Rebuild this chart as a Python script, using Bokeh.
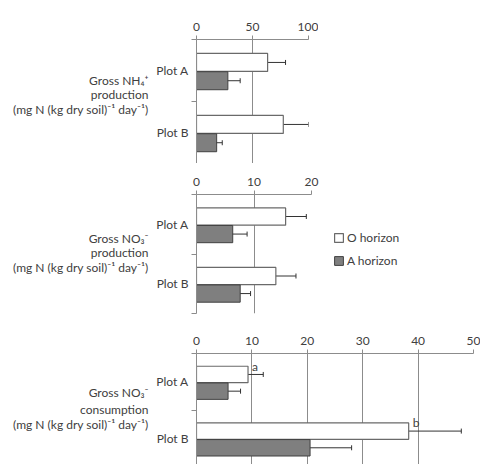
from bokeh.plotting import figure
from bokeh.layouts import column, row
from bokeh.models import (ColumnDataSource, Range1d, FixedTicker, Whisker, TeeHead,
                          Label, Legend, LegendItem)
from bokeh.core.properties import value
from bokeh.embed import file_html
from bokeh.resources import INLINE

# ---------------- data ----------------
categories = ["Plot A", "Plot B"]
series_names = ["O horizon", "A horizon"]

nh4_prod_O = [63.5, 77.5]
nh4_prod_O_err = [16.0, 22.5]
nh4_prod_A = [28.0, 18.0]
nh4_prod_A_err = [11.0, 5.0]

no3_prod_O = [15.5, 13.8]
no3_prod_O_err = [3.6, 3.5]
no3_prod_A = [6.3, 7.6]
no3_prod_A_err = [2.5, 1.8]

no3_cons_O = [9.3, 38.3]
no3_cons_O_err = [2.75, 9.5]
no3_cons_A = [5.7, 20.5]
no3_cons_A_err = [2.25, 7.5]
no3_cons_letters = ["a", "b"]

ticks_nh4 = [0, 50, 100]
ticks_no3p = [0, 10, 20]
ticks_no3c = [0, 10, 20, 30, 40, 50]

unit_line = "(mg N (kg dry soil)\u207b\u00b9 day\u207b\u00b9)"
labels = [
    ["Gross NH\u2084\u207a", "production", unit_line],
    ["Gross NO\u2083\u207b", "production", unit_line],
    ["Gross NO\u2083\u207b", "consumption", unit_line],
]

FONT = "Lato"
TXT = "#404040"
AXC = "#8c8c8c"
O_FILL, O_LINE = "white", "#6a6a6a"
A_FILL, A_LINE = "#7f7f7f", "#404040"
OFF_O, OFF_A, BAR_H = 0.37, 0.665, 0.29
LAB_W = 150


def label_fig(lines, frame_h, ys):
    q = figure(output_backend="svg", toolbar_location=None,
               x_range=Range1d(0, 1), y_range=Range1d(0, 1),
               min_border_left=0, min_border_right=0, min_border_top=0, min_border_bottom=0)
    q.frame_width = LAB_W
    q.frame_height = frame_h
    q.axis.visible = False
    q.grid.grid_line_color = None
    q.outline_line_color = None
    q.background_fill_color = None
    q.border_fill_color = None
    for t, y in zip(lines, ys):
        q.add_layout(Label(x=LAB_W - 2, y=y, x_units="screen", y_units="screen", text=t,
                           text_align="right", text_baseline="middle",
                           text_font=FONT, text_font_size="12px", text_color=TXT))
    return q


def panel(xmax, ticks, O, Oe, A, Ae, frame_w, frame_h, border_top, border_bottom,
          border_right, ystart=2.0, letters=None, legend=False):
    p = figure(output_backend="svg", toolbar_location=None,
               x_range=Range1d(0, xmax), y_range=Range1d(ystart, 0),
               x_axis_location="above", min_border_left=196 - LAB_W,
               min_border_top=border_top, min_border_bottom=border_bottom,
               min_border_right=border_right)
    p.frame_width = frame_w
    p.frame_height = frame_h
    p.outline_line_color = None
    p.background_fill_color = None
    p.border_fill_color = None

    idx = list(range(len(categories)))
    yO = [i + OFF_O for i in idx]
    yA = [i + OFF_A for i in idx]
    srcO = ColumnDataSource(dict(y=yO, v=O, lo=[v - e for v, e in zip(O, Oe)],
                                 hi=[v + e for v, e in zip(O, Oe)]))
    srcA = ColumnDataSource(dict(y=yA, v=A, lo=[v - e for v, e in zip(A, Ae)],
                                 hi=[v + e for v, e in zip(A, Ae)]))
    rO = p.hbar(y="y", right="v", left=0, height=BAR_H, source=srcO,
                fill_color=O_FILL, line_color=O_LINE, line_width=1.2)
    rA = p.hbar(y="y", right="v", left=0, height=BAR_H, source=srcA,
                fill_color=A_FILL, line_color=A_LINE, line_width=1)
    for src in (srcO, srcA):
        w = Whisker(base="y", lower="lo", upper="hi", source=src, dimension="width",
                    line_color="#333333", line_width=1,
                    upper_head=TeeHead(size=5, line_color="#333333", line_width=1),
                    lower_head=TeeHead(size=5, line_color="#333333", line_width=1))
        p.add_layout(w)

    if letters is not None:
        ls = ColumnDataSource(dict(x=O, y=[i + OFF_O - BAR_H / 2 for i in idx], t=letters))
        p.text(x="x", y="y", text="t", source=ls, x_offset=4,
               text_font=value(FONT), text_font_size="12px", text_color=TXT,
               text_baseline="middle", text_align="left")

    xa = p.xaxis[0]
    xa.ticker = FixedTicker(ticks=ticks)
    xa.axis_line_color = AXC
    xa.major_tick_line_color = AXC
    xa.major_tick_out = 4
    xa.major_tick_in = 0
    xa.minor_tick_line_color = None
    xa.major_label_text_font = FONT
    xa.major_label_text_font_size = "12px"
    xa.major_label_text_color = TXT
    xa.major_label_standoff = 5

    ya = p.yaxis[0]
    ya.ticker = FixedTicker(ticks=[i + 0.5 for i in idx], minor_ticks=[0, 1, 2])
    ya.major_label_overrides = {i + 0.5: c for i, c in zip(idx, categories)}
    ya.axis_line_color = AXC
    ya.major_tick_line_color = None
    ya.major_tick_out = 0
    ya.major_tick_in = 0
    ya.minor_tick_line_color = AXC
    ya.minor_tick_out = 5
    ya.minor_tick_in = 0
    ya.major_label_text_font = FONT
    ya.major_label_text_font_size = "12px"
    ya.major_label_text_color = TXT
    ya.major_label_standoff = 3

    p.xgrid.grid_line_color = AXC
    p.xgrid.ticker = FixedTicker(ticks=ticks)
    p.ygrid.grid_line_color = None

    if legend:
        lg = Legend(items=[LegendItem(label=series_names[0], renderers=[rO]),
                           LegendItem(label=series_names[1], renderers=[rA])],
                    location=(22, 45), border_line_color=None,
                    background_fill_alpha=0, padding=0, margin=0, spacing=8,
                    glyph_width=11, glyph_height=11, label_height=12, label_standoff=3,
                    label_text_font=FONT, label_text_font_size="12px",
                    label_text_color=TXT)
        p.add_layout(lg, "right")
    return p


# panel 1: canvas 0..163, frame 39..163
p1 = panel(100, ticks_nh4, nh4_prod_O, nh4_prod_O_err, nh4_prod_A, nh4_prod_A_err,
           112, 124, 39, 0, 10)
l1 = label_fig(labels[0], 124, [83, 68.7, 54])
# panel 2: canvas 163..322, frame 194..313
p2 = panel(20, ticks_no3p, no3_prod_O, no3_prod_O_err, no3_prod_A, no3_prod_A_err,
           115, 119, 31, 9, 10, legend=True)
l2 = label_fig(labels[1], 119, [75.3, 60.7, 46.3])
# panel 3: canvas 322..464, frame 353..464
p3 = panel(50, ticks_no3c, no3_cons_O, no3_cons_O_err, no3_cons_A, no3_cons_A_err,
           277, 111, 31, 0, 7, ystart=1.96, letters=no3_cons_letters)
l3 = label_fig(labels[2], 111, [72.3, 54.7, 39.7])

layout = column(row(l1, p1, spacing=0), row(l2, p2, spacing=0), row(l3, p3, spacing=0),
                spacing=0)
open("out.html", "w").write(file_html(layout, INLINE))
